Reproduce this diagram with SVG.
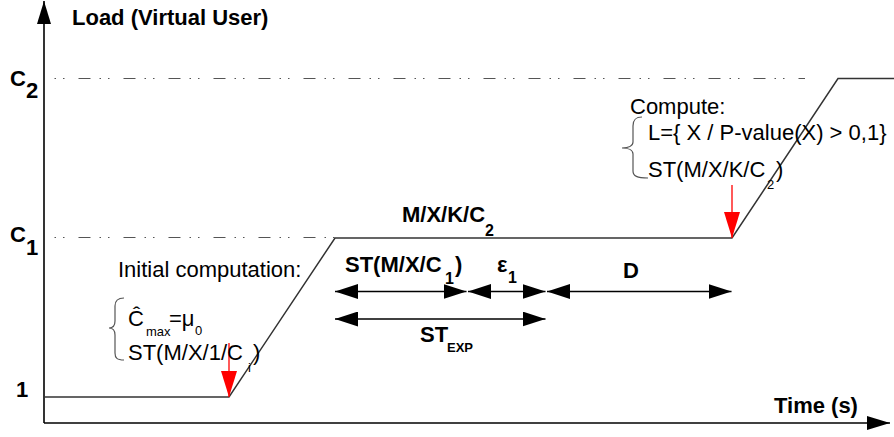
<svg xmlns="http://www.w3.org/2000/svg" width="894" height="437" viewBox="0 0 894 437">
<defs>
<style>
.b{font-family:"Liberation Sans",Arial,sans-serif;font-weight:bold;fill:#000}
.r{font-family:"Liberation Sans",Arial,sans-serif;fill:#000}
.curve{fill:none;stroke:#333;stroke-width:1.5}
.guide{fill:none;stroke:#555;stroke-width:1.2;stroke-dasharray:1.5 7 1.5 14 12 9}
.dim{fill:none;stroke:#000;stroke-width:1.3;marker-start:url(#ah);marker-end:url(#ah)}
.brace{fill:none;stroke:#555;stroke-width:1.2}
.red{fill:none;stroke:#f00;stroke-width:1.3;marker-end:url(#rh)}
</style>
<marker id="ah" markerUnits="userSpaceOnUse" markerWidth="23" markerHeight="15" refX="23" refY="7.5" orient="auto-start-reverse" viewBox="0 0 23 15">
<path d="M0,0 L23,7.5 L0,15 z" fill="#000"/>
</marker>
<marker id="axh" markerUnits="userSpaceOnUse" markerWidth="23" markerHeight="14" refX="23" refY="7" orient="auto" viewBox="0 0 23 14">
<path d="M0,0 L23,7 L0,14 z" fill="#000"/>
</marker>
<marker id="rh" markerUnits="userSpaceOnUse" markerWidth="26" markerHeight="16" refX="26" refY="8" orient="auto" viewBox="0 0 26 16">
<path d="M0,0 L26,8 L0,16 z" fill="#f00"/>
</marker>
</defs>
<rect width="894" height="437" fill="#fff"/>

<g id="guides">
<line class="guide" x1="54.5" y1="78.5" x2="805" y2="78.5"/>
<line class="guide" x1="54.5" y1="237.5" x2="335" y2="237.5"/>
</g>

<g id="axes">
<line x1="44" y1="423" x2="44" y2="1" stroke="#000" stroke-width="1.6" marker-end="url(#axh)"/>
<line x1="44" y1="423" x2="890" y2="423" stroke="#000" stroke-width="1.6" marker-end="url(#axh)"/>
<text class="b" x="72" y="25" font-size="22">Load (Virtual User)</text>
<text class="b" x="774" y="413" font-size="22">Time (s)</text>
<text class="b" font-size="22"><tspan x="10" y="86">C</tspan><tspan x="26" y="98">2</tspan></text>
<text class="b" font-size="22"><tspan x="10" y="242">C</tspan><tspan x="26" y="255">1</tspan></text>
<text class="b" x="16" y="397" font-size="22">1</text>
</g>

<g id="load-curve">
<polyline class="curve" points="44,397 229,397 335,238 732,238 838,78.5 894,78.5"/>
<text class="b" font-size="22"><tspan x="402" y="222">M/X/K/C</tspan><tspan x="485" y="236" font-size="16">2</tspan></text>
</g>

<g id="connectors">
<line class="dim" x1="335" y1="291.5" x2="466.5" y2="291.5"/>
<line class="dim" x1="468" y1="291.5" x2="545.5" y2="291.5"/>
<line class="dim" x1="547" y1="291.5" x2="731.5" y2="291.5"/>
<line class="dim" x1="335" y1="319" x2="545.5" y2="319"/>
<line class="red" x1="229" y1="343" x2="229" y2="397"/>
<line class="red" x1="732" y1="185" x2="732" y2="238"/>
</g>

<g id="dimension-labels">
<text class="b" font-size="22"><tspan x="345" y="272">ST(M/X/C</tspan><tspan x="445" y="284" font-size="16">1</tspan><tspan x="455" y="272">)</tspan></text>
<text class="b" font-size="22"><tspan x="497" y="272">ε</tspan><tspan x="508" y="283" font-size="16">1</tspan></text>
<text class="b" x="623" y="278" font-size="22">D</text>
<text class="b" font-size="22"><tspan x="420" y="342">ST</tspan><tspan x="447" y="352" font-size="13">EXP</tspan></text>
</g>

<g id="initial-computation">
<text class="r" x="118" y="277" font-size="22">Initial computation:</text>
<path class="brace" d="M124,298 C117,298 115,301 115,306 L115,321 C115,326 113,328 109,328 C113,328 115,330 115,335 L115,353 C115,358 117,360 124,360"/>
<text class="r" font-size="22"><tspan x="128" y="326">Ĉ</tspan><tspan x="146" y="336" font-size="13">max</tspan><tspan x="169" y="326">=μ</tspan><tspan x="195" y="335" font-size="13">0</tspan></text>
<text class="r" font-size="22"><tspan x="128" y="360">ST(M/X/1/C</tspan><tspan x="248" y="372" font-size="13">i</tspan><tspan x="253" y="360">)</tspan></text>
</g>

<g id="compute">
<text class="r" x="630" y="114" font-size="22">Compute:</text>
<path class="brace" d="M642,117 C635,117 633,120 633,126 L633,142 C633,146 628,148 622,148 C628,148 633,150 633,154 L633,171 C633,176 637,178 648,178"/>
<text class="r" x="648" y="140" font-size="22">L={ X / P-value(X) &gt; 0,1}</text>
<text class="r" font-size="22"><tspan x="648" y="177">ST(M/X/K/C</tspan><tspan x="767" y="189" font-size="13">2</tspan><tspan x="776" y="177">)</tspan></text>
</g>
</svg>
